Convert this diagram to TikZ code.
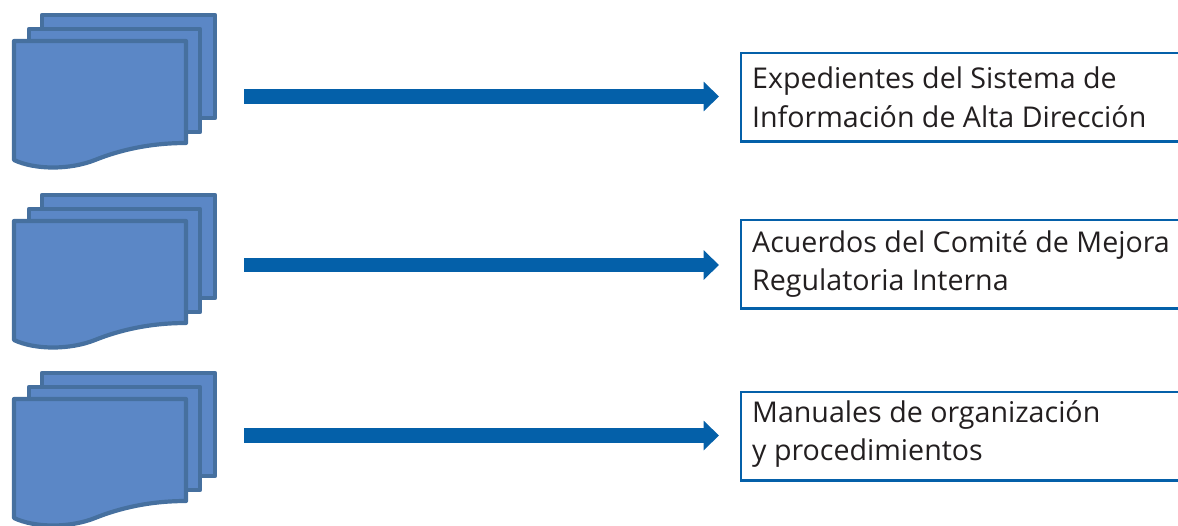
\documentclass[tikz,border=0pt]{standalone}
\usepackage{fontspec}
\setmainfont{Open Sans}
\usetikzlibrary{arrows.meta}
\definecolor{sheetfill}{HTML}{5B87C6}
\definecolor{sheetline}{HTML}{46709F}
\definecolor{flow}{HTML}{0460A9}
\definecolor{ink}{HTML}{231F20}
\tikzset{
  sheet/.style={draw=sheetline,fill=sheetfill,line width=4.2pt,line join=round},
  flowarrow/.style={draw=flow,line width=14.5pt,-{Triangle[length=15.5pt,width=29pt]}},
  labelbox/.style={draw=flow,line width=2.8pt,fill=white,anchor=north west,inner sep=0pt,outer sep=0pt,minimum width=460pt,minimum height=88.5pt},
  labeltext/.style={anchor=base west,text=ink,font=\fontsize{28.6}{28.6}\selectfont,inner sep=0pt},
  pics/stack/.style={code={
    \path[sheet] (42,15) -- (215,15) -- (215,118) -- (42,118) -- cycle;
    \path[sheet] (29,29) -- (200,29) -- (200,132) -- (29,132) -- cycle;
    \path[sheet] (14,41) -- (186,41) -- (186,143) .. controls (150,143) and (120,150) .. (95,160) .. controls (70,170) and (35,170) .. (14,160) -- cycle;
  }}
}
\begin{document}
\begin{tikzpicture}[x=1pt,y=-1pt]
\useasboundingbox (0,0) rectangle (1178,525);
\clip (0,0) rectangle (1178,525);
\pic at (0,0) {stack};
\pic at (0,180) {stack};
\pic at (0,358) {stack};
\coordinate (s1) at (244,96.5);
\coordinate (e1) at (719,96.5);
\coordinate (s2) at (244,265);
\coordinate (e2) at (719,265);
\coordinate (s3) at (244,435.5);
\coordinate (e3) at (719,435.5);
\draw[flowarrow] (s1) -- (e1);
\draw[flowarrow] (s2) -- (e2);
\draw[flowarrow] (s3) -- (e3);
\node[labelbox] (b1) at (741,53) {};
\node[labelbox] (b2) at (741,220) {};
\node[labelbox] (b3) at (741,392) {};
\node[labeltext] (t1a) at (752,88) {Expedientes del Sistema de};
\node[labeltext] (t1b) at (752,127) {Información de Alta Dirección};
\node[labeltext] (t2a) at (752,252) {Acuerdos del Comité de Mejora};
\node[labeltext] (t2b) at (752,290) {Regulatoria Interna};
\node[labeltext] (t3a) at (752,422) {Manuales de organización};
\node[labeltext] (t3b) at (752,460) {y procedimientos};
\end{tikzpicture}
\end{document}
